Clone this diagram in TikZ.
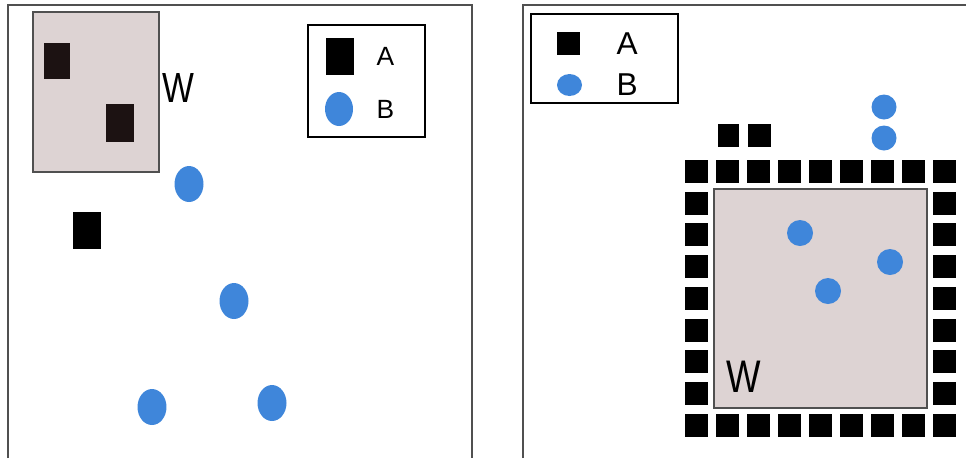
\documentclass[tikz,border=0pt]{standalone}
\usepackage{fontspec}
\setmainfont{Liberation Sans}
\newfontfamily\narrowsans[FakeStretch=0.8]{Liberation Sans}
\usepackage{xcolor}
\usetikzlibrary{positioning,shapes.geometric}

\definecolor{wfill}{HTML}{DDD3D3}
\definecolor{wline}{HTML}{505050}
\definecolor{bblue}{HTML}{3F86DA}
\definecolor{darkA}{HTML}{1C1212}

\begin{document}
\begin{tikzpicture}[
    x=0.02cm, y=-0.02cm,
    frame/.style={draw=wline, line width=0.6pt},
    wbox/.style={rectangle, draw=wline, fill=wfill, line width=0.9pt, inner sep=0pt},
    legbox/.style={rectangle, draw=black, line width=1pt, inner sep=0pt},
    agentA/.style={rectangle, fill=black, inner sep=0pt, minimum width=0.56cm, minimum height=0.74cm},
    agentB/.style={ellipse, fill=bblue, inner sep=0pt, minimum width=0.58cm, minimum height=0.72cm},
    cellA/.style={rectangle, fill=black, inner sep=0pt, minimum size=0.46cm},
    dotB/.style={circle, fill=bblue, inner sep=0pt, minimum size=0.52cm},
    wlabel/.style={font=\narrowsans\fontsize{24}{24}\selectfont, inner sep=0pt},
    leglabel/.style={font=\fontsize{15}{15}\selectfont, inner sep=0pt}
    ]
    \useasboundingbox (0,0) rectangle (966,458);

    % left panel
    \draw[frame] (8,458) -- (8,5) -- (472,5) -- (472,458);
    \node[wbox, minimum width=2.52cm, minimum height=3.2cm] (wL) at (96,92) {};
    \node[agentA, fill=darkA, minimum width=0.52cm, minimum height=0.72cm] (inA1) at (57,61) {};
    \node[agentA, fill=darkA, minimum height=0.76cm] (inA2) at (120,123) {};
    \node[wlabel] (wLtext) at (178.5,88) {W};
    \node[agentA] (outA) at (87,230.5) {};
    \node[agentB] (outB1) at (189,184) {};
    \node[agentB] (outB2) at (234,301) {};
    \node[agentB] (outB3) at (152,407) {};
    \node[agentB] (outB4) at (272,403) {};

    \node[legbox, minimum width=2.34cm, minimum height=2.24cm] (legL) at (366.5,81) {};
    \node[agentA] (legLA) at (340,56) {};
    \node[agentB, minimum width=0.56cm, minimum height=0.68cm] (legLB) at (339,109) {};
    \node[leglabel, right=0.44cm of legLA] (legLAtext) {A};
    \node[leglabel, right=0.46cm of legLB] (legLBtext) {B};

    % right panel
    \draw[frame] (523,458) -- (523,5) -- (966,5);
    \node[legbox, minimum width=2.94cm, minimum height=1.78cm] (legR) at (604.5,58.5) {};
    \node[cellA] (legRA) at (568.5,43.5) {};
    \node[ellipse, fill=bblue, inner sep=0pt, minimum width=0.5cm, minimum height=0.44cm] (legRB) at (569.5,85) {};
    \node[leglabel, font=\fontsize{18}{18}\selectfont, right=0.72cm of legRA] (legRAtext) {A};
    \node[leglabel, font=\fontsize{18}{18}\selectfont, right=0.68cm of legRB] (legRBtext) {B};

    \node[wbox, minimum width=4.26cm, minimum height=4.38cm] (wR) at (820.5,298.5) {};
    \node[wlabel, font=\narrowsans\fontsize{26}{26}\selectfont] (wRtext) at (743.5,377) {W};

    \foreach \i in {0,...,8} {
      \node[cellA] (top\i) at (696.5+31*\i,171.5) {};
      \node[cellA] (bot\i) at (696.5+31*\i,425) {};
    }
    \foreach \j in {1,...,7} {
      \node[cellA] (lft\j) at (696.5,171.5+31.7*\j) {};
      \node[cellA] (rgt\j) at (944.5,171.5+31.7*\j) {};
    }
    \node[cellA, minimum width=0.42cm] (upA1) at (728,135.5) {};
    \node[cellA] (upA2) at (759.5,135.5) {};

    \node[dotB, minimum size=0.5cm] (upB1) at (884,107) {};
    \node[dotB, minimum size=0.5cm] (upB2) at (884,138) {};
    \node[dotB] (inB1) at (800,233) {};
    \node[dotB] (inB2) at (890,262) {};
    \node[dotB] (inB3) at (828,291) {};
  \end{tikzpicture}
\end{document}
